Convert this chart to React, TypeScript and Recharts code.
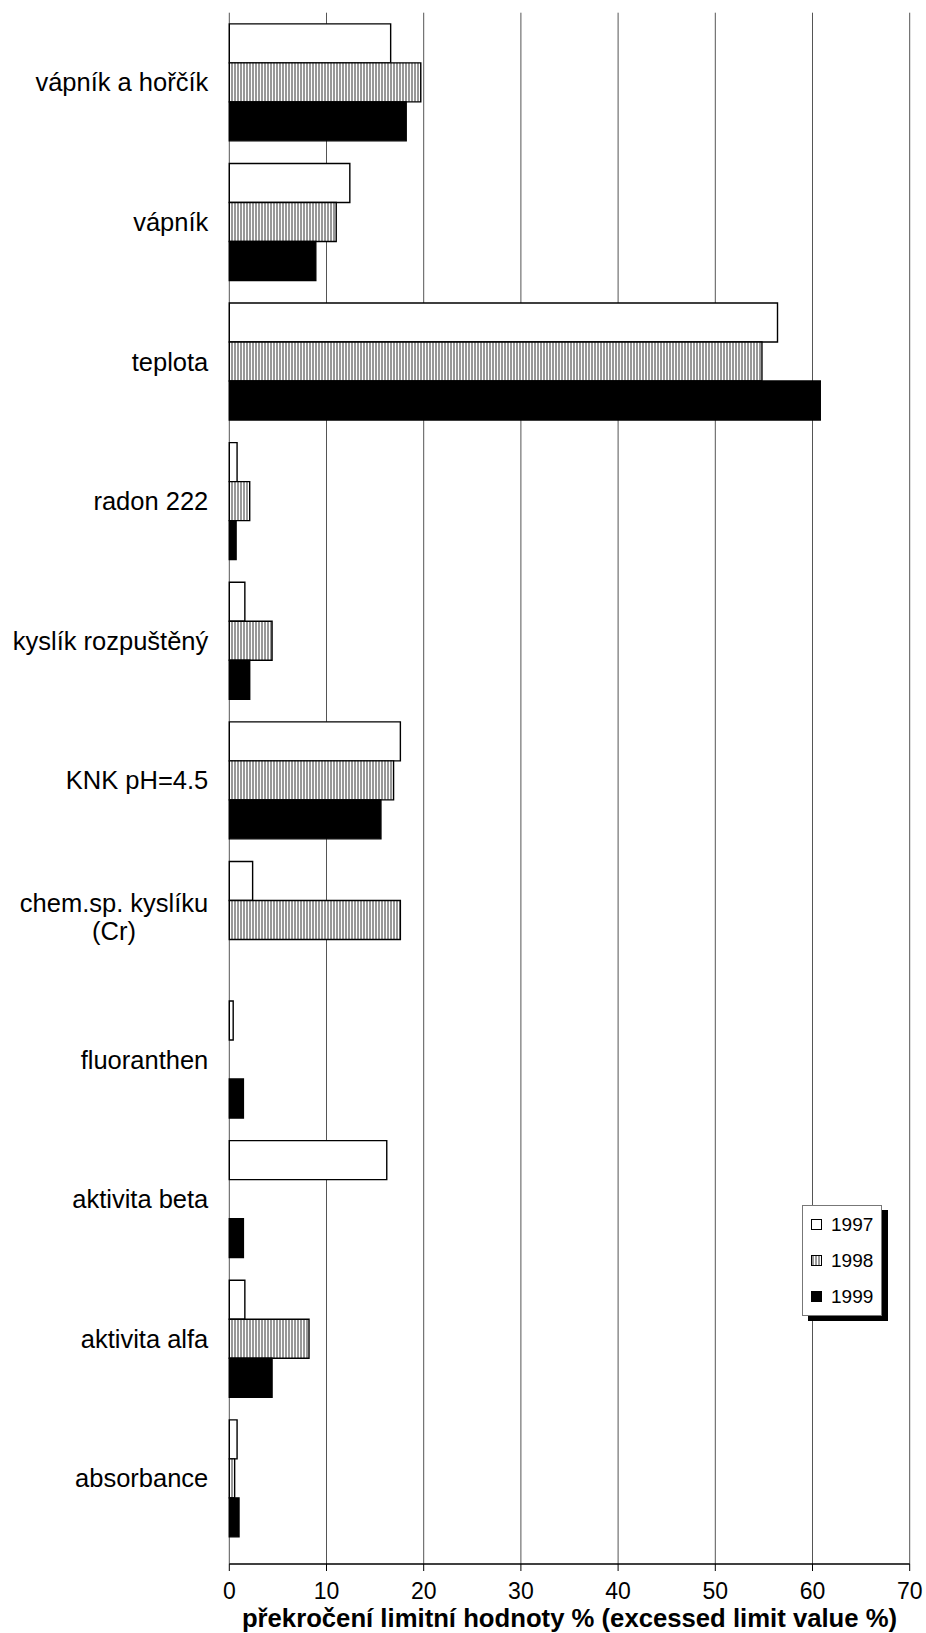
import React from 'react';
import {
  BarChart, Bar, XAxis, YAxis, CartesianGrid, Legend,
} from 'recharts';

const categories = [
  'vápník a hořčík',
  'vápník',
  'teplota',
  'radon 222',
  'kyslík rozpuštěný',
  'KNK pH=4.5',
  'chem.sp. kyslíku\n(Cr)',
  'fluoranthen',
  'aktivita beta',
  'aktivita alfa',
  'absorbance',
];
const values1997: (number | null)[] = [16.6, 12.4, 56.4, 0.8, 1.6, 17.6, 2.4, 0.4, 16.2, 1.6, 0.8];
const values1998: (number | null)[] = [19.7, 11.0, 54.8, 2.1, 4.4, 16.9, 17.6, null, null, 8.2, 0.55];
const values1999: (number | null)[] = [18.2, 8.9, 60.8, 0.7, 2.1, 15.6, null, 1.45, 1.45, 4.4, 1.0];
const xTicks = [0, 10, 20, 30, 40, 50, 60, 70];
const bandTicks = [0, 1, 2, 3, 4, 5, 6, 7, 8, 9, 10, 11];
const seriesNames = ['1997', '1998', '1999'];
const xTitle = 'překročení limitní hodnoty % (excessed limit value %)';

const data = categories.map((c, i) => ({
  name: c,
  [seriesNames[0]]: values1997[i],
  [seriesNames[1]]: values1998[i],
  [seriesNames[2]]: values1999[i],
}));

const FONT = '"Liberation Sans", Arial, sans-serif';
const CAT_FS = 25.5;

function measure(text: string, fs: number): number {
  try {
    const c = document.createElement('canvas').getContext('2d');
    if (c) {
      c.font = `${fs}px "Liberation Sans", Arial, sans-serif`;
      return c.measureText(text).width;
    }
  } catch (e) {}
  return text.length * fs * 0.5;
}

const CatTick = (props: any) => {
  const { x, y, payload } = props;
  const lines = String(payload.value).split('\n');
  const right = x - 21;
  if (lines.length === 1) {
    return (
      <text x={right} y={y} dy="0.35em" textAnchor="end" fontSize={CAT_FS} fontFamily={FONT} fill="#000">
        {lines[0]}
      </text>
    );
  }
  const w = Math.max(...lines.map((l) => measure(l, CAT_FS)));
  const cx = right - w / 2;
  const lh = 28.5;
  return (
    <text fontSize={CAT_FS} fontFamily={FONT} fill="#000" textAnchor="middle">
      {lines.map((l, i) => (
        <tspan key={i} x={cx} y={y - 3 + (i - (lines.length - 1) / 2) * lh} dy="0.35em">
          {l}
        </tspan>
      ))}
    </text>
  );
};

const markerStyle: Record<string, React.CSSProperties> = {
  '1997': { background: '#fff' },
  '1998': { background: 'repeating-linear-gradient(90deg, #999 0px, #999 2px, #fff 2px, #fff 3px)' },
  '1999': { background: '#000' },
};

const LegendBox = (props: any) => {
  const { payload } = props;
  return (
    <div
      style={{
        width: 80,
        height: 111,
        boxSizing: 'border-box',
        border: '1px solid #777',
        background: '#fff',
        boxShadow: '6px 5px 0 #000',
        fontFamily: FONT,
      }}
    >
      {(payload || []).map((e: any) => (
        <div key={e.value} style={{ height: 36.3, display: 'flex', alignItems: 'center' }}>
          <div
            style={{
              width: 11,
              height: 11,
              boxSizing: 'border-box',
              border: '1px solid #000',
              marginLeft: 8,
              ...markerStyle[String(e.value)],
            }}
          />
          <span style={{ marginLeft: 9, fontSize: 19, color: '#000', lineHeight: '19px' }}>{e.value}</span>
        </div>
      ))}
    </div>
  );
};

export default function App() {
  return (
    <div style={{ position: 'absolute', left: 0, top: 0, width: 926, height: 1633, background: '#fff' }}>
      <BarChart
        width={926}
        height={1633}
        data={data}
        layout="vertical"
        margin={{ top: 12.7, right: 16.3, bottom: 0, left: 0 }}
        barCategoryGap="8%"
        barGap={0}
      >
        <defs>
          <pattern id="hatch1998" patternUnits="userSpaceOnUse" width="3" height="10">
            <rect x="0" y="0" width="3" height="10" fill="#fff" />
            <rect x="0" y="0" width="2" height="10" fill="#999" />
          </pattern>
        </defs>
        <CartesianGrid horizontal={false} stroke="#555" strokeWidth={1} yAxisId="cat" />
        <YAxis
          yAxisId="num"
          type="number"
          domain={[0, 11]}
          ticks={bandTicks}
          width={0}
          tickSize={8}
          tickFormatter={() => ''}
          axisLine={{ stroke: '#000', strokeWidth: 2 }}
          tickLine={{ stroke: '#333', strokeWidth: 1 }}
          interval={0}
          padding={{ top: 0, bottom: 15.7 }}
          allowDataOverflow
        />
        <YAxis
          yAxisId="cat"
          type="category"
          dataKey="name"
          width={229.3}
          axisLine={false}
          tickLine={false}
          tickSize={0}
          tickMargin={0}
          interval={0}
          padding={{ top: 0, bottom: 15.7 }}
          tick={<CatTick />}
        />
        <XAxis
          xAxisId="top"
          orientation="top"
          type="number"
          domain={[0, 70]}
          height={0}
          tick={false}
          tickLine={false}
          axisLine={{ stroke: '#777', strokeWidth: 1.5 }}
        />
        <XAxis
          type="number"
          domain={[0, 70]}
          ticks={xTicks}
          interval={0}
          height={69}
          tickSize={7}
          tickMargin={12}
          axisLine={{ stroke: '#000', strokeWidth: 1.5 }}
          tickLine={{ stroke: '#000' }}
          tick={{ fontSize: 23, fontFamily: FONT, fill: '#000' }}
          label={{
            value: xTitle,
            position: 'insideBottom',
            offset: 6.5,
            style: { fontSize: 25.7, fontWeight: 'bold', fontFamily: FONT, fill: '#000' },
          }}
        />
        <Legend
          layout="vertical"
          align="center"
          verticalAlign="middle"
          wrapperStyle={{ position: 'absolute', left: 802, top: 1205, width: 80, height: 111 }}
          content={<LegendBox />}
        />
        <Bar yAxisId="cat" dataKey="1997" name="1997" fill="#fff" stroke="#000" strokeWidth={1.4} isAnimationActive={false} />
        <Bar yAxisId="cat" dataKey="1998" name="1998" fill="url(#hatch1998)" stroke="#000" strokeWidth={1.4} isAnimationActive={false} />
        <Bar yAxisId="cat" dataKey="1999" name="1999" fill="#000" stroke="#000" strokeWidth={1.4} isAnimationActive={false} />
      </BarChart>
    </div>
  );
}
